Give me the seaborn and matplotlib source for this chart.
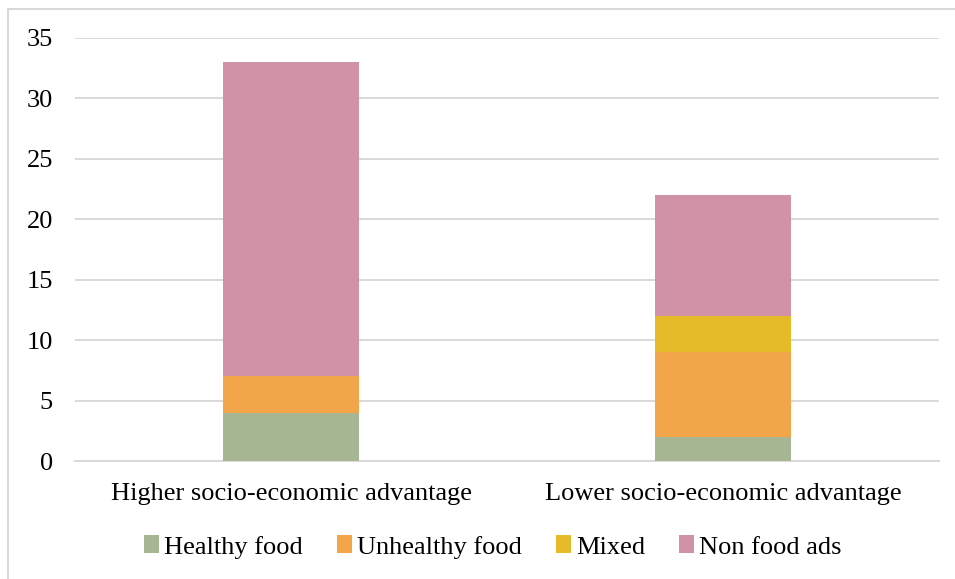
import matplotlib
matplotlib.use("Agg")
import matplotlib.pyplot as plt
import seaborn as sns
import pandas as pd
import numpy as np
from matplotlib.lines import Line2D
from matplotlib.patches import Patch

categories = ["Higher socio-economic advantage", "Lower socio-economic advantage"]
series_names = ["Healthy food", "Unhealthy food", "Mixed", "Non food ads"]
healthy = [4, 2]
unhealthy = [3, 7]
mixed = [0, 3]
non_food = [26, 10]
colors = ["#a6b592", "#f2a549", "#e5bb2a", "#d191a6"]
y_ticks = [0, 5, 10, 15, 20, 25, 30, 35]

sns.set_theme(style="white")
plt.rcParams["font.family"] = ["Liberation Serif", "DejaVu Serif"]
plt.rcParams["text.color"] = "#000000"

W, H = 955, 579
FS = 19
fig = plt.figure(figsize=(W / 100, H / 100), dpi=100)
ax = fig.add_axes([75 / W, 1 - 461 / H, (939 - 75) / W, (461 - 38) / H])

values = [healthy, unhealthy, mixed, non_food]
cum = np.cumsum(np.array(values, dtype=float), axis=0)

# draw from top of stack down so lower segments overlay
for i in range(len(series_names) - 1, -1, -1):
    df = pd.DataFrame({"category": categories, "value": cum[i]})
    sns.barplot(data=df, x="category", y="value", color=colors[i],
                saturation=1, width=0.315, linewidth=0, ax=ax, zorder=3)

ax.set_xlim(-0.5, 1.5)
ax.set_ylim(0, 35)
ax.set_yticks(y_ticks)
ax.set_yticklabels([str(t) for t in y_ticks])
ax.set_xlabel("")
ax.set_ylabel("")
ax.grid(axis="y", color="#d9d9d9", linewidth=1.4, zorder=0)
ax.grid(axis="x", visible=False)
for s in ["top", "right", "left"]:
    ax.spines[s].set_visible(False)
ax.spines["bottom"].set_color("#d9d9d9")
ax.spines["bottom"].set_linewidth(1.4)
ax.tick_params(axis="y", length=0, pad=16, labelsize=FS, labelcolor="#000000")
ax.tick_params(axis="x", length=0, pad=16, labelsize=FS, labelcolor="#000000")

handles = [Patch(facecolor=c, edgecolor="none") for c in colors]
fig.legend(handles, series_names, loc="center", bbox_to_anchor=(493 / W, 1 - 547 / H),
           ncol=4, frameon=False, fontsize=FS, handlelength=0.55, handleheight=0.65,
           handletextpad=0.2, columnspacing=1.3, labelcolor="#000000")

# outer chart frame (top & left visible)
fig.add_artist(Line2D([7.5 / W, 7.5 / W], [0, 1 - 8.5 / H], transform=fig.transFigure,
                      color="#d9d9d9", linewidth=1.5))
fig.add_artist(Line2D([7.5 / W, 1], [1 - 8.5 / H, 1 - 8.5 / H], transform=fig.transFigure,
                      color="#d9d9d9", linewidth=1.5))

fig.savefig("out.png", dpi=100)
